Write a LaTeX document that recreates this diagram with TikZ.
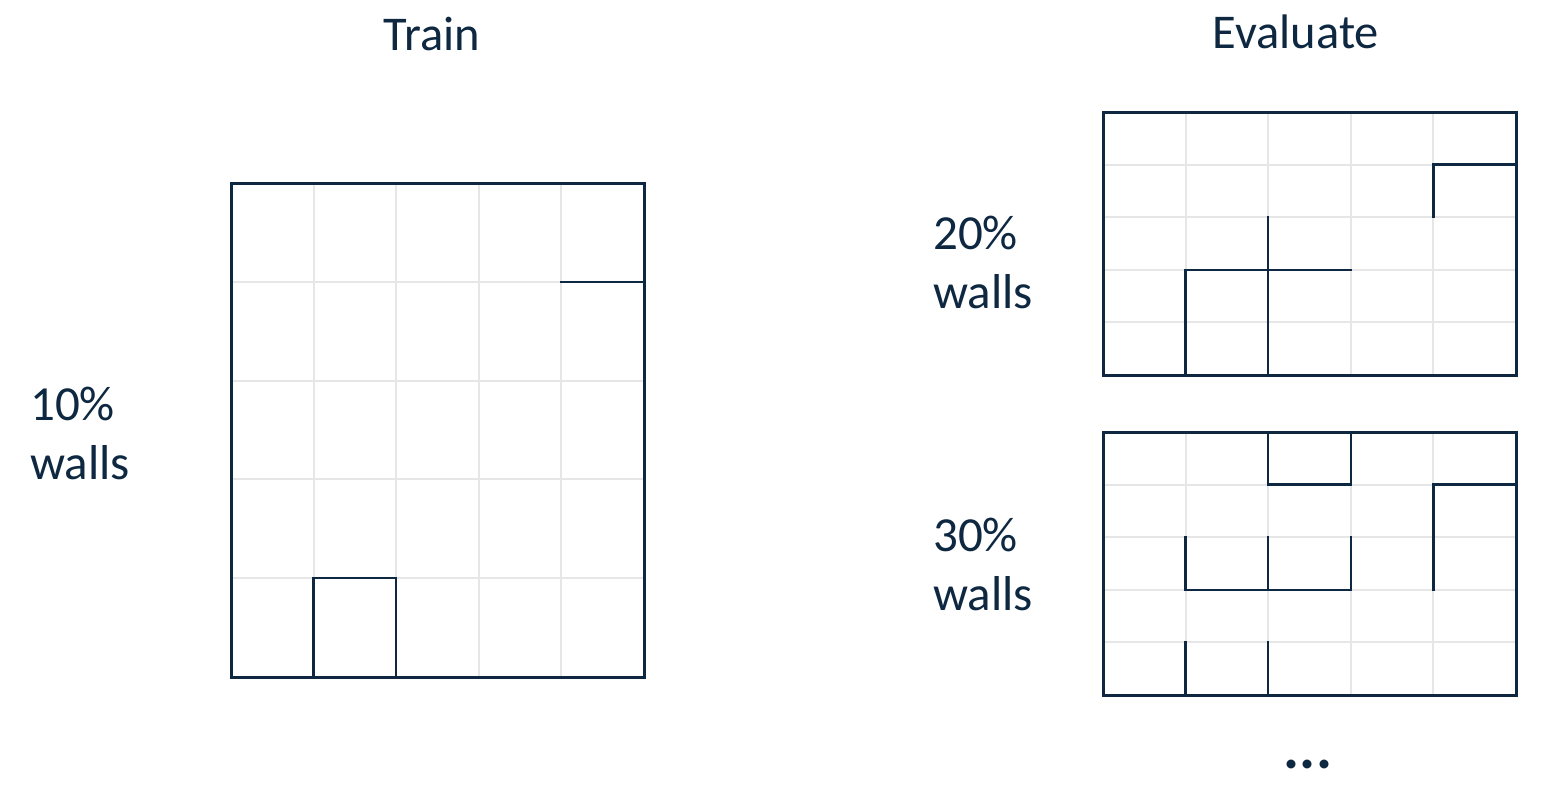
\documentclass[tikz,border=0pt]{standalone}
\usepackage{fontspec}
\setmainfont{Carlito}
\definecolor{navy}{HTML}{0E2841}
\definecolor{gridgray}{HTML}{E6E6E6}
\begin{document}
\begin{tikzpicture}[x=1pt,y=-1pt,
  gridline/.style={gridgray,line width=2pt},
  border/.style={navy,line width=3pt,line join=miter},
  wall/.style={navy,line width=2.4pt,line cap=rect},
  title/.style={text=navy,font=\fontsize{48.5}{58}\selectfont,anchor=base,inner sep=0pt},
  label/.style={text=navy,font=\fontsize{49}{59}\selectfont,anchor=base west,align=left,inner sep=0pt}]
\useasboundingbox[fill=white] (0,0) rectangle (1548,788);

\node[title] (train) at (432,50) {Train};
\node[title] (eval) at (1296,48) {Evaluate};

\node[label] (l10) at (30,479) {10\%\\walls};
\node[label] (l20) at (933,308) {20\%\\walls};
\node[label] (l30) at (933,610) {30\%\\walls};
\node[text=navy,font=\fontsize{60}{70}\selectfont\bfseries,anchor=base,inner sep=0pt] (dots) at (1308,768) {...};

% Train grid
\begin{scope}[shift={(231,183)},x=82.6pt,y=-98.8pt]
  \foreach \i in {1,...,4} {\draw[gridline] (\i,0) -- (\i,5); \draw[gridline] (0,\i) -- (5,\i);}
  \draw[wall] (4,1) -- (5,1);
  \draw[wall] (1,5) -- (1,4) -- (2,4) -- (2,5);
  \draw[border] (0,0) rectangle (5,5);
\end{scope}

% Evaluate 20%
\begin{scope}[shift={(1103,112)},x=82.6pt,y=-52.6pt]
  \foreach \i in {1,...,4} {\draw[gridline] (\i,0) -- (\i,5); \draw[gridline] (0,\i) -- (5,\i);}
  \draw[wall] (5,1) -- (4,1) -- (4,2);
  \draw[wall] (2,2) -- (2,5);
  \draw[wall] (1,5) -- (1,3) -- (3,3);
  \draw[border] (0,0) rectangle (5,5);
\end{scope}

% Evaluate 30%
\begin{scope}[shift={(1103,432)},x=82.6pt,y=-52.6pt]
  \foreach \i in {1,...,4} {\draw[gridline] (\i,0) -- (\i,5); \draw[gridline] (0,\i) -- (5,\i);}
  \draw[wall] (2,0) -- (2,1) -- (3,1) -- (3,0);
  \draw[wall] (5,1) -- (4,1) -- (4,3);
  \draw[wall] (1,2) -- (1,3) -- (3,3) -- (3,2);
  \draw[wall] (2,2) -- (2,3);
  \draw[wall] (1,4) -- (1,5);
  \draw[wall] (2,4) -- (2,5);
  \draw[border] (0,0) rectangle (5,5);
\end{scope}
\end{tikzpicture}
\end{document}
